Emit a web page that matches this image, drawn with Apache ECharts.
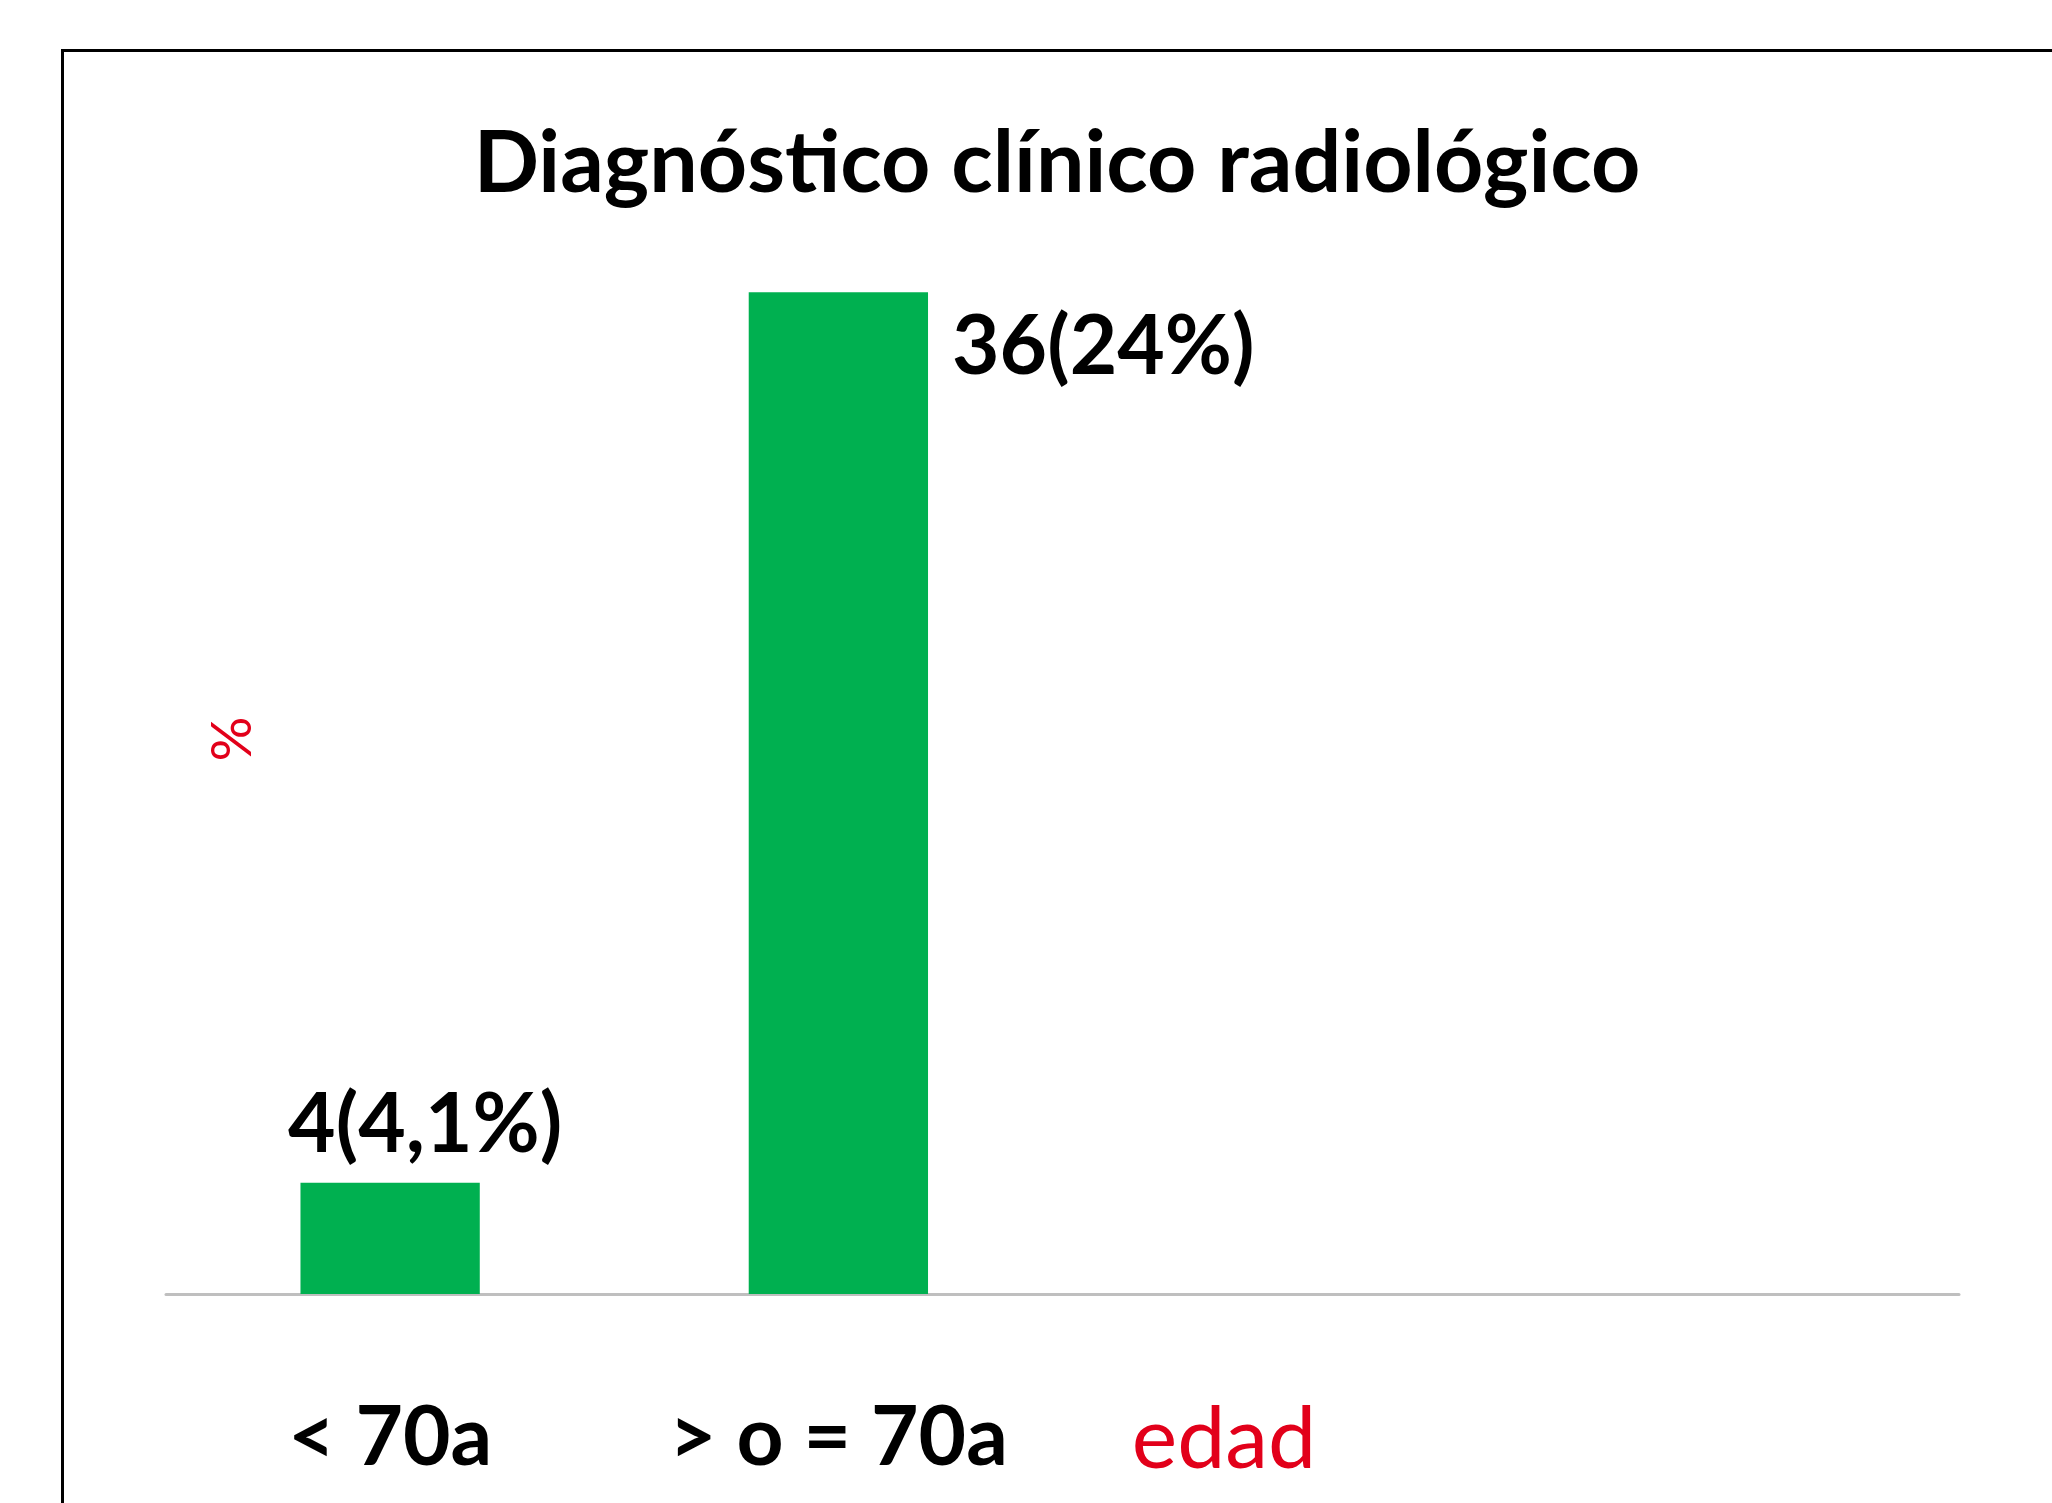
<!DOCTYPE html>
<html>
<head>
<meta charset="utf-8">
<script src="https://cdn.jsdelivr.net/npm/echarts@6/dist/echarts.min.js"></script>
<style>
html, body { margin: 0; padding: 0; background: #fff; }
#chart { width: 2052px; height: 1503px; }
</style>
</head>
<body>
<div id="chart"></div>
<script>
// datos
var categorias = ['< 70a', '> o = 70a', '', ''];
var casos = [4, 36, null, null];
var etiquetas = ['4(4,1%)', '36(24%)', '', ''];
var yMax = 40;

var verde = '#00b050';
var rojo = '#e2001a';
var fuente = 'Lato, "Open Sans", sans-serif';

// la etiqueta de la primera barra va encima, la de la segunda a la derecha
var posiciones = [
    {position: 'top', distance: 16, offset: [35, 0]},
    {position: ['100%', 0], align: 'left', verticalAlign: 'top', offset: [24, 14]},
    {},
    {}
];

var datos = casos.map(function (v, i) {
    var l = Object.assign({
        show: v != null,
        formatter: etiquetas[i],
        color: '#000',
        fontFamily: fuente,
        fontWeight: 'bold',
        fontSize: 82
    }, posiciones[i]);
    return {value: v, label: l};
});

var s = echarts.init(document.getElementById('chart'));
var c = {
    backgroundColor: '#ffffff',
    animation: false,
    grid: {left: 166, right: 93, top: 181, bottom: 209},
    xAxis: {
        type: 'category',
        data: categorias,
        axisLine: {show: true, lineStyle: {color: '#bfbfbf', width: 3}},
        axisTick: {show: false},
        axisLabel: {
            interval: 0,
            margin: 104,
            color: '#000',
            fontFamily: fuente,
            fontWeight: 'bold',
            fontSize: 82
        }
    },
    yAxis: {
        type: 'value',
        min: 0,
        max: yMax,
        axisLine: {show: false},
        axisTick: {show: false},
        axisLabel: {show: false},
        splitLine: {show: false}
    },
    series: [{
        type: 'bar',
        barWidth: '40%',
        itemStyle: {color: verde},
        data: datos
    }],
    graphic: [
        {
            type: 'rect',
            left: 60, top: 48,
            shape: {width: 2100, height: 1600},
            style: {fill: 'none', stroke: '#000', lineWidth: 3},
            silent: true
        },
        {
            type: 'text',
            x: 1057, y: 164,
            style: {
                text: 'Diagnóstico clínico radiológico',
                textAlign: 'center', textVerticalAlign: 'middle',
                fill: '#000', font: 'bold 86px ' + fuente
            }
        },
        {
            type: 'text',
            x: 233, y: 739,
            rotation: Math.PI / 2,
            style: {
                text: '%',
                textAlign: 'center', textVerticalAlign: 'middle',
                fill: rojo, font: '56px ' + fuente
            }
        },
        {
            type: 'text',
            x: 1224, y: 1440,
            style: {
                text: 'edad',
                textAlign: 'center', textVerticalAlign: 'middle',
                fill: rojo, font: '86px ' + fuente
            }
        }
    ]
};
s.setOption(c);
window.addEventListener('resize', function () { s.resize(); });
</script>
</body>
</html>
